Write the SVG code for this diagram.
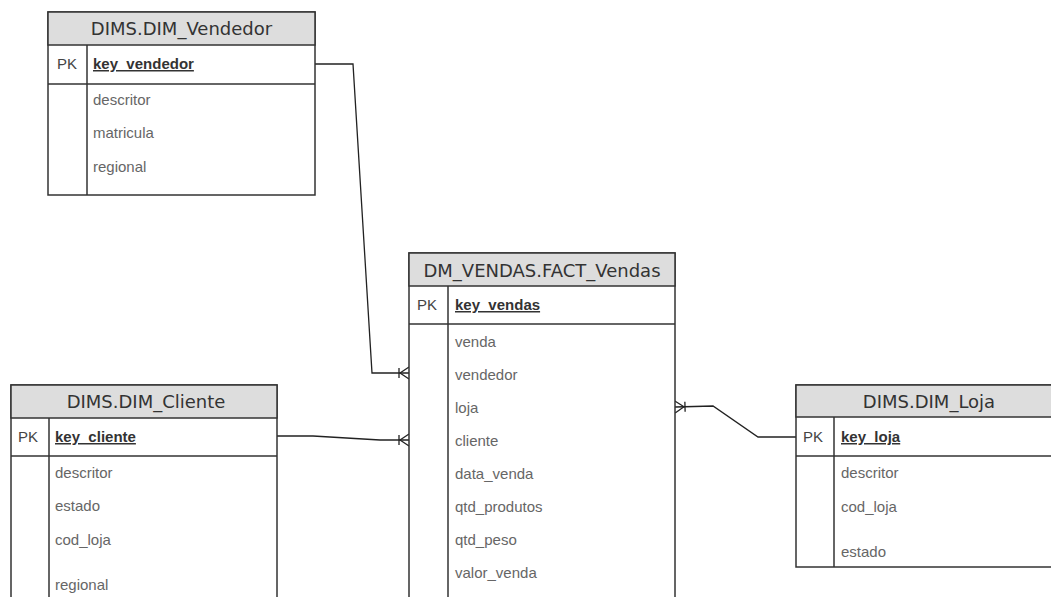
<svg xmlns="http://www.w3.org/2000/svg" width="1051" height="597" viewBox="0 0 1051 597">
  <style>
    .box { fill: #ffffff; stroke: #333333; stroke-width: 1.5; }
    .head { fill: #dddddd; stroke: #333333; stroke-width: 1.5; }
    .ln { stroke: #333333; stroke-width: 1.5; fill: none; }
    .title { font-family: "DejaVu Sans", Verdana, sans-serif; font-size: 18px; fill: #333333; text-anchor: middle; }
    .pk { font-family: "Liberation Sans", Arial, sans-serif; font-size: 15px; fill: #444444; }
    .key { font-family: "Liberation Sans", Arial, sans-serif; font-size: 15px; font-weight: bold; fill: #333333; text-decoration: underline; }
    .fld { font-family: "Liberation Sans", Arial, sans-serif; font-size: 15px; fill: #666666; }
    .conn { stroke: #222222; stroke-width: 1.3; fill: none; }
  </style>
  <defs>
    <marker id="many" markerUnits="userSpaceOnUse" markerWidth="14" markerHeight="16" refX="11" refY="8" orient="auto-start-reverse" viewBox="0 0 14 16">
      <path d="M2,8 L11,2 M2,8 L11,14 M1,3 L1,13" stroke="#222222" stroke-width="1.3" fill="none"/>
    </marker>
  </defs>
  <rect width="1051" height="597" fill="#ffffff"/>

  <g id="connectors">
    <path class="conn" d="M315,64 L353,64 L372,373 L409,373" marker-end="url(#many)"/>
    <path class="conn" d="M277,436 L313,436 L380,440 L409,440" marker-end="url(#many)"/>
    <path class="conn" d="M675,407 L713,406 L758,437 L796,437" marker-start="url(#many)"/>
  </g>

  <g id="dim_vendedor">
    <rect class="box" x="48" y="12" width="267" height="183"/>
    <rect class="head" x="48" y="12" width="267" height="33"/>
    <line class="ln" x1="48" y1="84" x2="315" y2="84"/>
    <line class="ln" x1="87" y1="45" x2="87" y2="195"/>
    <text class="title" x="181.5" y="35">DIMS.DIM_Vendedor</text>
    <text class="pk" x="57" y="69">PK</text>
    <text class="key" x="93" y="69">key_vendedor</text>
    <text class="fld" x="93" y="105">descritor</text>
    <text class="fld" x="93" y="138">matricula</text>
    <text class="fld" x="93" y="172">regional</text>
  </g>

  <g id="fact_vendas">
    <rect class="box" x="409" y="253" width="266" height="360"/>
    <rect class="head" x="409" y="253" width="266" height="33"/>
    <line class="ln" x1="409" y1="324" x2="675" y2="324"/>
    <line class="ln" x1="448" y1="286" x2="448" y2="597"/>
    <text class="title" x="542" y="277">DM_VENDAS.FACT_Vendas</text>
    <text class="pk" x="417" y="310">PK</text>
    <text class="key" x="455" y="310">key_vendas</text>
    <text class="fld" x="455" y="347">venda</text>
    <text class="fld" x="455" y="380">vendedor</text>
    <text class="fld" x="455" y="413">loja</text>
    <text class="fld" x="455" y="446">cliente</text>
    <text class="fld" x="455" y="479">data_venda</text>
    <text class="fld" x="455" y="512">qtd_produtos</text>
    <text class="fld" x="455" y="545">qtd_peso</text>
    <text class="fld" x="455" y="578">valor_venda</text>
  </g>

  <g id="dim_cliente">
    <rect class="box" x="11" y="385" width="266" height="230"/>
    <rect class="head" x="11" y="385" width="266" height="33"/>
    <line class="ln" x1="11" y1="456" x2="277" y2="456"/>
    <line class="ln" x1="49" y1="418" x2="49" y2="597"/>
    <text class="title" x="146" y="408">DIMS.DIM_Cliente</text>
    <text class="pk" x="18" y="442">PK</text>
    <text class="key" x="55" y="442">key_cliente</text>
    <text class="fld" x="55" y="478">descritor</text>
    <text class="fld" x="55" y="511">estado</text>
    <text class="fld" x="55" y="545">cod_loja</text>
    <text class="fld" x="55" y="590">regional</text>
  </g>

  <g id="dim_loja">
    <rect class="box" x="796" y="385" width="266" height="182"/>
    <rect class="head" x="796" y="385" width="266" height="32"/>
    <line class="ln" x1="796" y1="456" x2="1062" y2="456"/>
    <line class="ln" x1="834" y1="417" x2="834" y2="567"/>
    <text class="title" x="929" y="408">DIMS.DIM_Loja</text>
    <text class="pk" x="803" y="442">PK</text>
    <text class="key" x="841" y="442">key_loja</text>
    <text class="fld" x="841" y="478">descritor</text>
    <text class="fld" x="841" y="512">cod_loja</text>
    <text class="fld" x="841" y="557">estado</text>
  </g>
</svg>
